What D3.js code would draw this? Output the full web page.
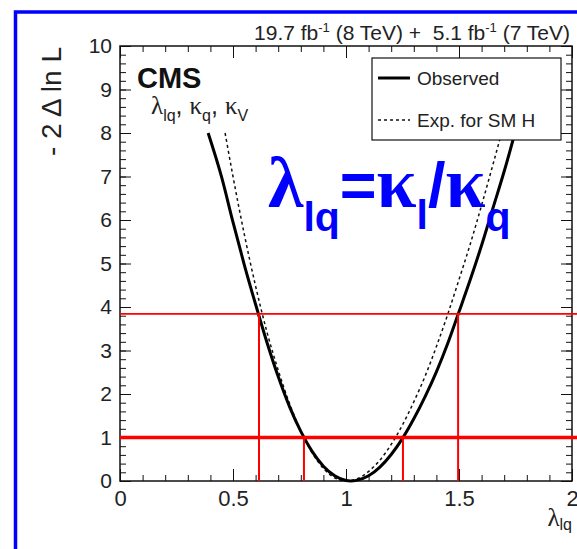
<!DOCTYPE html>
<html>
<head>
<meta charset="utf-8">
<script src="https://cdn.jsdelivr.net/npm/d3@7/dist/d3.min.js"></script>
<style>
  body { margin: 0; background: #fff; }
  svg { display: block; }
  text { font-family: "Liberation Sans", Arial, sans-serif; }
</style>
</head>
<body>
<div id="chart"></div>
<script>
// observed likelihood scan (lambda_lq, -2 dlnL)
var lambdaObs = [0.39, 0.45, 0.50, 0.55, 0.60, 0.65, 0.70, 0.75, 0.80, 0.85, 0.90, 0.95, 1.00, 1.02,
                 1.05, 1.10, 1.15, 1.20, 1.25, 1.30, 1.35, 1.40, 1.45, 1.50, 1.55, 1.60, 1.65, 1.70, 1.75]
var nllObs    = [8.00, 6.98, 5.95, 4.97, 4.06, 3.19, 2.40, 1.71, 1.14, 0.68, 0.34, 0.12, 0.01, 0.00,
                 0.02, 0.12, 0.32, 0.61, 0.98, 1.43, 1.94, 2.51, 3.16, 3.89, 4.63, 5.42, 6.27, 7.12, 8.05]

// expected for SM Higgs
var lambdaExp = [0.465, 0.50, 0.55, 0.60, 0.65, 0.70, 0.75, 0.80, 0.85, 0.90, 0.95, 1.00,
                 1.05, 1.10, 1.15, 1.20, 1.25, 1.30, 1.35, 1.40, 1.45, 1.50, 1.55, 1.60, 1.65, 1.70]
var nllExp    = [8.00, 7.00, 5.67, 4.48, 3.43, 2.55, 1.78, 1.15, 0.65, 0.29, 0.07, 0.00,
                 0.05, 0.22, 0.48, 0.84, 1.29, 1.82, 2.41, 3.09, 3.83, 4.63, 5.45, 6.34, 7.27, 8.23]

// confidence levels and crossings
var clLevels = [1, 3.84]
var clLow    = [0.814, 0.615]
var clHigh   = [1.252, 1.496]

var xTicks = [0, 0.5, 1, 1.5, 2]
var xLabels = ["0", "0.5", "1", "1.5", "2"]
var yTicks = [0, 1, 2, 3, 4, 5, 6, 7, 8, 9, 10]

var W = 577, H = 549
var frame = {left: 120, right: 572, top: 46, bottom: 481}

var svg = d3.select("#chart").append("svg")
    .attr("width", W)
    .attr("height", H)

var x = d3.scaleLinear().domain([0, 2]).range([frame.left, frame.right])
var y = d3.scaleLinear().domain([0, 10]).range([frame.bottom, frame.top])

var minorX = d3.range(0, 2.0001, 0.1)
var minorY = d3.range(0, 10.0001, 0.2)

function strip(g) {
  g.select(".domain").remove()
  g.selectAll(".tick line").attr("stroke", "#111").attr("stroke-width", 1)
}

// bottom axis with labels
svg.append("g")
    .attr("transform", "translate(0," + frame.bottom + ")")
    .call(d3.axisBottom(x).tickValues(xTicks).tickSize(-12).tickPadding(9)
      .tickFormat(function(d, i) { return xLabels[i] }))
    .call(strip)
    .selectAll("text").attr("font-size", 22).attr("fill", "#222")
svg.append("g")
    .attr("transform", "translate(0," + frame.bottom + ")")
    .call(d3.axisBottom(x).tickValues(minorX).tickSize(-6).tickFormat(""))
    .call(strip)

// top axis mirrored ticks
svg.append("g")
    .attr("transform", "translate(0," + frame.top + ")")
    .call(d3.axisTop(x).tickValues(xTicks).tickSize(-12).tickFormat(""))
    .call(strip)
svg.append("g")
    .attr("transform", "translate(0," + frame.top + ")")
    .call(d3.axisTop(x).tickValues(minorX).tickSize(-6).tickFormat(""))
    .call(strip)

// left axis
svg.append("g")
    .attr("transform", "translate(" + frame.left + ",0)")
    .call(d3.axisLeft(y).tickValues(yTicks).tickSize(-11).tickPadding(8))
    .call(strip)
    .selectAll("text").attr("font-size", 21).attr("fill", "#222")
svg.append("g")
    .attr("transform", "translate(" + frame.left + ",0)")
    .call(d3.axisLeft(y).tickValues(minorY).tickSize(-6).tickFormat(""))
    .call(strip)

// right axis mirrored ticks
svg.append("g")
    .attr("transform", "translate(" + frame.right + ",0)")
    .call(d3.axisRight(y).tickValues(yTicks).tickSize(-11).tickFormat(""))
    .call(strip)
svg.append("g")
    .attr("transform", "translate(" + frame.right + ",0)")
    .call(d3.axisRight(y).tickValues(minorY).tickSize(-6).tickFormat(""))
    .call(strip)

// frame
svg.append("rect")
    .attr("x", frame.left).attr("y", frame.top)
    .attr("width", frame.right - frame.left).attr("height", frame.bottom - frame.top)
    .attr("fill", "none").attr("stroke", "#111").attr("stroke-width", 1.5)

// curves
var line = d3.line()
    .x(function(d) { return x(d[0]) })
    .y(function(d) { return y(d[1]) })
    .curve(d3.curveMonotoneX)

svg.append("path")
    .datum(d3.zip(lambdaExp, nllExp))
    .attr("d", line)
    .attr("fill", "none").attr("stroke", "#111")
    .attr("stroke-width", 1.5).attr("stroke-dasharray", "3,3")

svg.append("path")
    .datum(d3.zip(lambdaObs, nllObs))
    .attr("d", line)
    .attr("fill", "none").attr("stroke", "#000")
    .attr("stroke-width", 3)

// red CL lines
svg.selectAll(".clh")
    .data(clLevels)
    .enter()
    .append("line")
    .attr("class", "clh")
    .attr("x1", frame.left).attr("x2", W)
    .attr("y1", function(d) { return y(d) })
    .attr("y2", function(d) { return y(d) })
    .attr("stroke", "#ff0000")
    .attr("stroke-width", function(d, i) { return i == 0 ? 3.5 : 1.8 })

var crossings = []
clLevels.forEach(function(lv, i) {
  crossings.push([clLow[i], lv])
  crossings.push([clHigh[i], lv])
})
svg.selectAll(".clv")
    .data(crossings)
    .enter()
    .append("line")
    .attr("class", "clv")
    .attr("x1", function(d) { return x(d[0]) })
    .attr("x2", function(d) { return x(d[0]) })
    .attr("y1", y(0))
    .attr("y2", function(d) { return y(d[1]) })
    .attr("stroke", "#ff0000").attr("stroke-width", 2)

// legend
var leg = svg.append("g")
leg.append("rect")
    .attr("x", 372).attr("y", 58).attr("width", 189).attr("height", 82)
    .attr("fill", "#fff").attr("stroke", "#111").attr("stroke-width", 1.2)
leg.append("line")
    .attr("x1", 378).attr("x2", 410).attr("y1", 78).attr("y2", 78)
    .attr("stroke", "#000").attr("stroke-width", 3)
leg.append("line")
    .attr("x1", 378).attr("x2", 410).attr("y1", 120).attr("y2", 120)
    .attr("stroke", "#111").attr("stroke-width", 1.3).attr("stroke-dasharray", "3,3")
leg.append("text").attr("x", 417).attr("y", 85).attr("font-size", 19).attr("fill", "#222").text("Observed")
leg.append("text").attr("x", 417).attr("y", 127).attr("font-size", 19).attr("fill", "#222").text("Exp. for SM H")

// title
var title = svg.append("text")
    .attr("x", 570).attr("y", 40)
    .attr("text-anchor", "end").attr("font-size", 21).attr("fill", "#222")
    .style("white-space", "pre")
title.append("tspan").text("19.7 fb")
title.append("tspan").attr("font-size", 13).attr("dy", -8).text("-1")
title.append("tspan").attr("dy", 8).text(" (8 TeV) +  5.1 fb")
title.append("tspan").attr("font-size", 13).attr("dy", -8).text("-1")
title.append("tspan").attr("dy", 8).text(" (7 TeV)")

// CMS label
svg.append("text")
    .attr("x", 137).attr("y", 88)
    .attr("font-size", 29).attr("font-weight", "bold").attr("fill", "#111")
    .text("CMS")

var model = svg.append("text")
    .attr("x", 151).attr("y", 114).attr("fill", "#222").attr("font-size", 25)
model.append("tspan").attr("font-family", "Liberation Serif").text("λ")
model.append("tspan").attr("font-size", 16).attr("dy", 7).text("lq")
model.append("tspan").attr("dy", -7).text(", ")
model.append("tspan").attr("font-family", "Liberation Serif").text("κ")
model.append("tspan").attr("font-size", 16).attr("dy", 7).text("q")
model.append("tspan").attr("dy", -7).text(", ")
model.append("tspan").attr("font-family", "Liberation Serif").text("κ")
model.append("tspan").attr("font-size", 16).attr("dy", 7).text("V")

// axis titles
svg.append("text")
    .attr("transform", "translate(61,47) rotate(-90)")
    .attr("text-anchor", "end").attr("font-size", 28).attr("fill", "#222")
    .text("- 2 Δ ln L")

var xt = svg.append("text")
    .attr("x", 572).attr("y", 526)
    .attr("text-anchor", "end").attr("font-size", 25).attr("fill", "#222")
xt.append("tspan").attr("font-family", "Liberation Serif").text("λ")
xt.append("tspan").attr("font-size", 16).attr("dy", 4).text("lq")

// big blue annotation
var big = svg.append("text")
    .attr("x", 268).attr("y", 207)
    .attr("fill", "#0000ff").attr("font-weight", "bold").attr("font-size", 63)
big.append("tspan").attr("font-family", "Liberation Serif").attr("font-size", 72).text("λ")
big.append("tspan").attr("font-size", 41).attr("dy", 24).text("lq")
big.append("tspan").attr("dy", -24).text("=")
big.append("tspan").attr("font-family", "Liberation Serif").attr("font-size", 72).text("κ")
big.append("tspan").attr("font-size", 41).attr("dy", 22).text("l")
big.append("tspan").attr("dy", -22).text("/")
big.append("tspan").attr("font-family", "Liberation Serif").attr("font-size", 72).text("κ")
big.append("tspan").attr("font-size", 41).attr("dy", 24).text("q")

// blue slide border
svg.append("path")
    .attr("d", "M15.5," + H + " V12 H" + W)
    .attr("fill", "none").attr("stroke", "#0000ff").attr("stroke-width", 3.5)
</script>
</body>
</html>
